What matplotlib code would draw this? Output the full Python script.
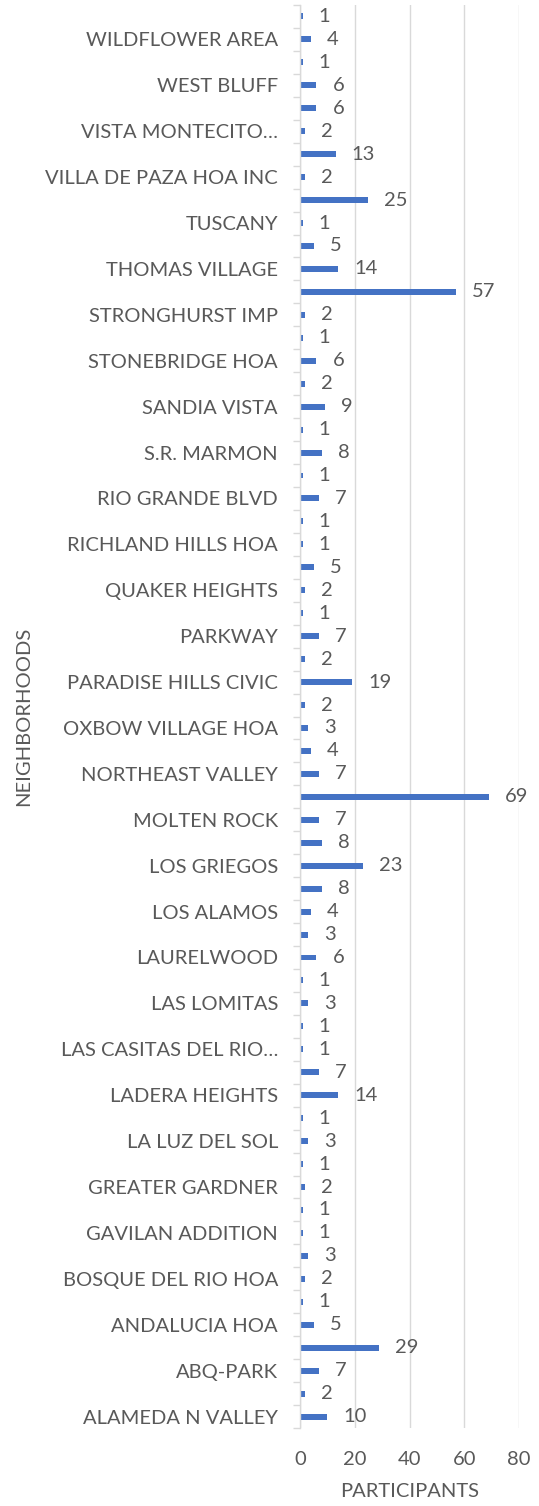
import matplotlib
matplotlib.use("Agg")
import matplotlib.pyplot as plt
import numpy as np

# Categories listed top to bottom (only every other label is shown in the chart)
neighborhoods = [
    "", "WILDFLOWER AREA", "", "WEST BLUFF", "", "VISTA MONTECITO\u2026",
    "", "VILLA DE PAZA HOA INC", "", "TUSCANY", "", "THOMAS VILLAGE",
    "", "STRONGHURST IMP", "", "STONEBRIDGE HOA", "", "SANDIA VISTA",
    "", "S.R. MARMON", "", "RIO GRANDE BLVD", "", "RICHLAND HILLS HOA",
    "", "QUAKER HEIGHTS", "", "PARKWAY", "", "PARADISE HILLS CIVIC",
    "", "OXBOW VILLAGE HOA", "", "NORTHEAST VALLEY", "", "MOLTEN ROCK",
    "", "LOS GRIEGOS", "", "LOS ALAMOS", "", "LAURELWOOD",
    "", "LAS LOMITAS", "", "LAS CASITAS DEL RIO\u2026", "", "LADERA HEIGHTS",
    "", "LA LUZ DEL SOL", "", "GREATER GARDNER", "", "GAVILAN ADDITION",
    "", "BOSQUE DEL RIO HOA", "", "ANDALUCIA HOA", "", "ABQ-PARK",
    "", "ALAMEDA N VALLEY",
]
participants = [
    1, 4, 1, 6, 6, 2, 13, 2, 25, 1, 5, 14, 57, 2, 1, 6, 2, 9, 1, 8,
    1, 7, 1, 1, 5, 2, 1, 7, 2, 19, 2, 3, 4, 7, 69, 7, 8, 23, 8, 4,
    3, 6, 1, 3, 1, 1, 7, 14, 1, 3, 1, 2, 1, 1, 3, 2, 1, 5, 29, 7,
    2, 10,
]
x_ticks = [0, 20, 40, 60, 80]

TEXT = "#595959"
GRID = "#D9D9D9"
BAR = "#4472C4"
FONT = "Lato"
FS = 14.5

W, H, DPI = 539, 1506, 100
PX = 72 / DPI  # points per pixel
fig = plt.figure(figsize=(W / DPI, H / DPI), dpi=DPI)
x0, x1 = 300, 519
ytop, ybot = 5, 1428
ax = fig.add_axes([x0 / W, (H - ybot) / H, (x1 - x0) / W, (ybot - ytop) / H])

n = len(participants)
pos = np.arange(n)
ax.barh(pos, participants, height=0.26, color=BAR, zorder=3)
ax.set_ylim(n - 0.5, -0.5)
ax.set_xlim(0, 80)

for p, v in zip(pos, participants):
    ax.annotate(str(v), (v, p), xytext=(16 * PX, 0), textcoords="offset points",
                ha="left", va="center", fontsize=FS, color=TEXT, family=FONT,
                annotation_clip=False)

ax.set_yticks(pos)
ax.set_yticklabels(neighborhoods, fontsize=FS, color=TEXT, family=FONT)
ax.tick_params(axis="y", which="major", length=0, pad=22 * PX)
ax.set_yticks(np.arange(-0.5, n, 1.0), minor=True)
ax.tick_params(axis="y", which="minor", length=7 * PX, color=GRID, width=1)

ax.set_xticks(x_ticks)
ax.set_xticklabels([str(t) for t in x_ticks], fontsize=FS, color=TEXT, family=FONT)
ax.tick_params(axis="x", length=0, pad=23 * PX)

ax.grid(axis="x", color=GRID, linewidth=1, zorder=0)
for s in ["top", "right", "bottom"]:
    ax.spines[s].set_visible(False)
ax.spines["left"].set_color(GRID)
ax.spines["left"].set_linewidth(1)
ax.spines["left"].set_zorder(4)

ax.set_xlabel("PARTICIPANTS", fontsize=FS, color=TEXT, family=FONT, labelpad=15 * PX)
ax.set_ylabel("NEIGHBORHOODS", fontsize=FS, color=TEXT, family=FONT, va="center")
ax.yaxis.set_label_coords(-(x0 - 24) / (x1 - x0), 0.5)

fig.savefig("out.png", dpi=DPI)
